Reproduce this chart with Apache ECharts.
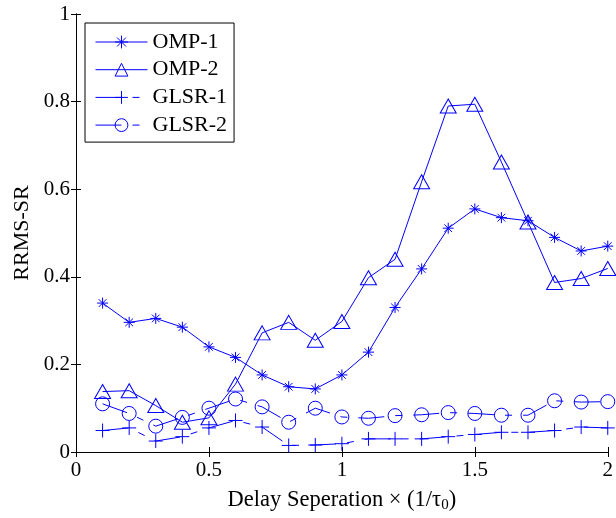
<!DOCTYPE html>
<html>
<head>
<meta charset="utf-8">
<script src="https://cdn.jsdelivr.net/npm/echarts@6/dist/echarts.min.js"></script>
<style>
html,body{margin:0;padding:0;background:#fff;}
#chart{width:616px;height:518px;}
</style>
</head>
<body>
<div id="chart"></div>
<script>
const xValues = [0.1,0.2,0.3,0.4,0.5,0.6,0.7,0.8,0.9,1.0,1.1,1.2,1.3,1.4,1.5,1.6,1.7,1.8,1.9,2.0];
const omp1 = [0.340,0.296,0.305,0.285,0.240,0.216,0.176,0.149,0.144,0.176,0.228,0.330,0.418,0.511,0.555,0.535,0.528,0.490,0.459,0.470];
const omp2 = [0.138,0.140,0.106,0.068,0.078,0.155,0.272,0.296,0.255,0.298,0.398,0.440,0.617,0.790,0.794,0.662,0.525,0.387,0.396,0.419];
const glsr1 = [0.049,0.055,0.025,0.035,0.055,0.072,0.057,0.015,0.016,0.019,0.030,0.030,0.030,0.035,0.040,0.045,0.045,0.049,0.057,0.055];
const glsr2 = [0.110,0.088,0.059,0.079,0.100,0.121,0.103,0.068,0.100,0.080,0.077,0.083,0.085,0.090,0.088,0.084,0.084,0.117,0.114,0.115];
const seriesNames = ['OMP-1','OMP-2','GLSR-1','GLSR-2'];
const xTicks = [0,0.5,1,1.5,2];
const yTicks = [0,0.2,0.4,0.6,0.8,1];

const FONT = '"Liberation Serif", "Times New Roman", serif';
const BLUE = '#0000ff';
const pairs = arr => arr.map((v,i)=>[xValues[i], v]);

const asterisk = 'path://M0,5 L10,5 M5,0 L5,10 M1.5,1.5 L8.5,8.5 M8.5,1.5 L1.5,8.5';
const plus = 'path://M0,5 L10,5 M5,0 L5,10';
const tri = 'path://M5,0 L10,8.66 L0,8.66 Z';
const dashDot = [26, 11, 7, 11];

function mk(name, data, symbol, size, dashed){
  return {
    name, type:'line', data: pairs(data), symbol, symbolSize: size,
    showAllSymbol: true,
    lineStyle:{color:BLUE, width:1, type: dashed ? dashDot : 'solid'},
    itemStyle:{color:'transparent', borderColor:BLUE, borderWidth:1},
    emphasis:{disabled:true}, animation:false, z: 3
  };
}

const chart = echarts.init(document.getElementById('chart'), null, {renderer:'canvas'});
const axisCommon = {
  axisLine:{show:true, lineStyle:{color:'#000', width:1}},
  axisTick:{show:true, inside:true, length:5, lineStyle:{color:'#000'}},
  splitLine:{show:false}
};
chart.setOption({
  animation:false,
  backgroundColor:'#fff',
  grid:{left:76, right:2, top:14, bottom:62, show:false},
  legend:{
    data: seriesNames, orient:'vertical', left:85, top:23,
    padding:[8,7,6,10], itemGap:5.7, itemWidth:52, itemHeight:16,
    backgroundColor:'#fff', borderColor:'#000', borderWidth:1, borderRadius:0,
    itemStyle:{borderWidth:1},
    lineStyle:{width:1},
    textStyle:{fontFamily:FONT, fontSize:22, color:'#000', lineHeight:22},
    selectedMode:false
  },
  xAxis:[
    Object.assign({type:'value', min:0, max:2, interval:0.5, position:'bottom',
      axisLabel:{fontFamily:FONT, fontSize:21, color:'#000', margin:8,
        formatter: v => (xTicks.indexOf(v)>=0 ? String(v) : '')},
      name:'{a|Delay Seperation × (1/τ}{s|0}{a|)}', nameLocation:'middle', nameGap:35,
      nameTextStyle:{rich:{a:{fontFamily:FONT, fontSize:22.5, color:'#000'}, s:{fontFamily:FONT, fontSize:15, color:'#000', verticalAlign:'bottom', padding:[11,0,0,0]}}}
    }, axisCommon),
    Object.assign({type:'value', min:0, max:2, interval:0.5, position:'top', axisLabel:{show:false}}, axisCommon)
  ],
  yAxis:[
    Object.assign({type:'value', min:0, max:1, interval:0.2, position:'left',
      axisLabel:{fontFamily:FONT, fontSize:21, color:'#000', margin:6,
        formatter: v => { const t = yTicks.find(k=>Math.abs(k-v)<1e-9); return t===undefined?'':String(t); }},
      name:'RRMS-SR', nameLocation:'middle', nameGap:43,
      nameTextStyle:{fontFamily:FONT, fontSize:22, color:'#000'}
    }, axisCommon),
    Object.assign({type:'value', min:0, max:1, interval:0.2, position:'right', axisLabel:{show:false}}, axisCommon)
  ],
  series:[
    mk('OMP-1', omp1, asterisk, 11, false),
    mk('OMP-2', omp2, tri, [16,14], false),
    mk('GLSR-1', glsr1, plus, 14, true),
    mk('GLSR-2', glsr2, 'circle', 14, true)
  ]
});
</script>
</body>
</html>
